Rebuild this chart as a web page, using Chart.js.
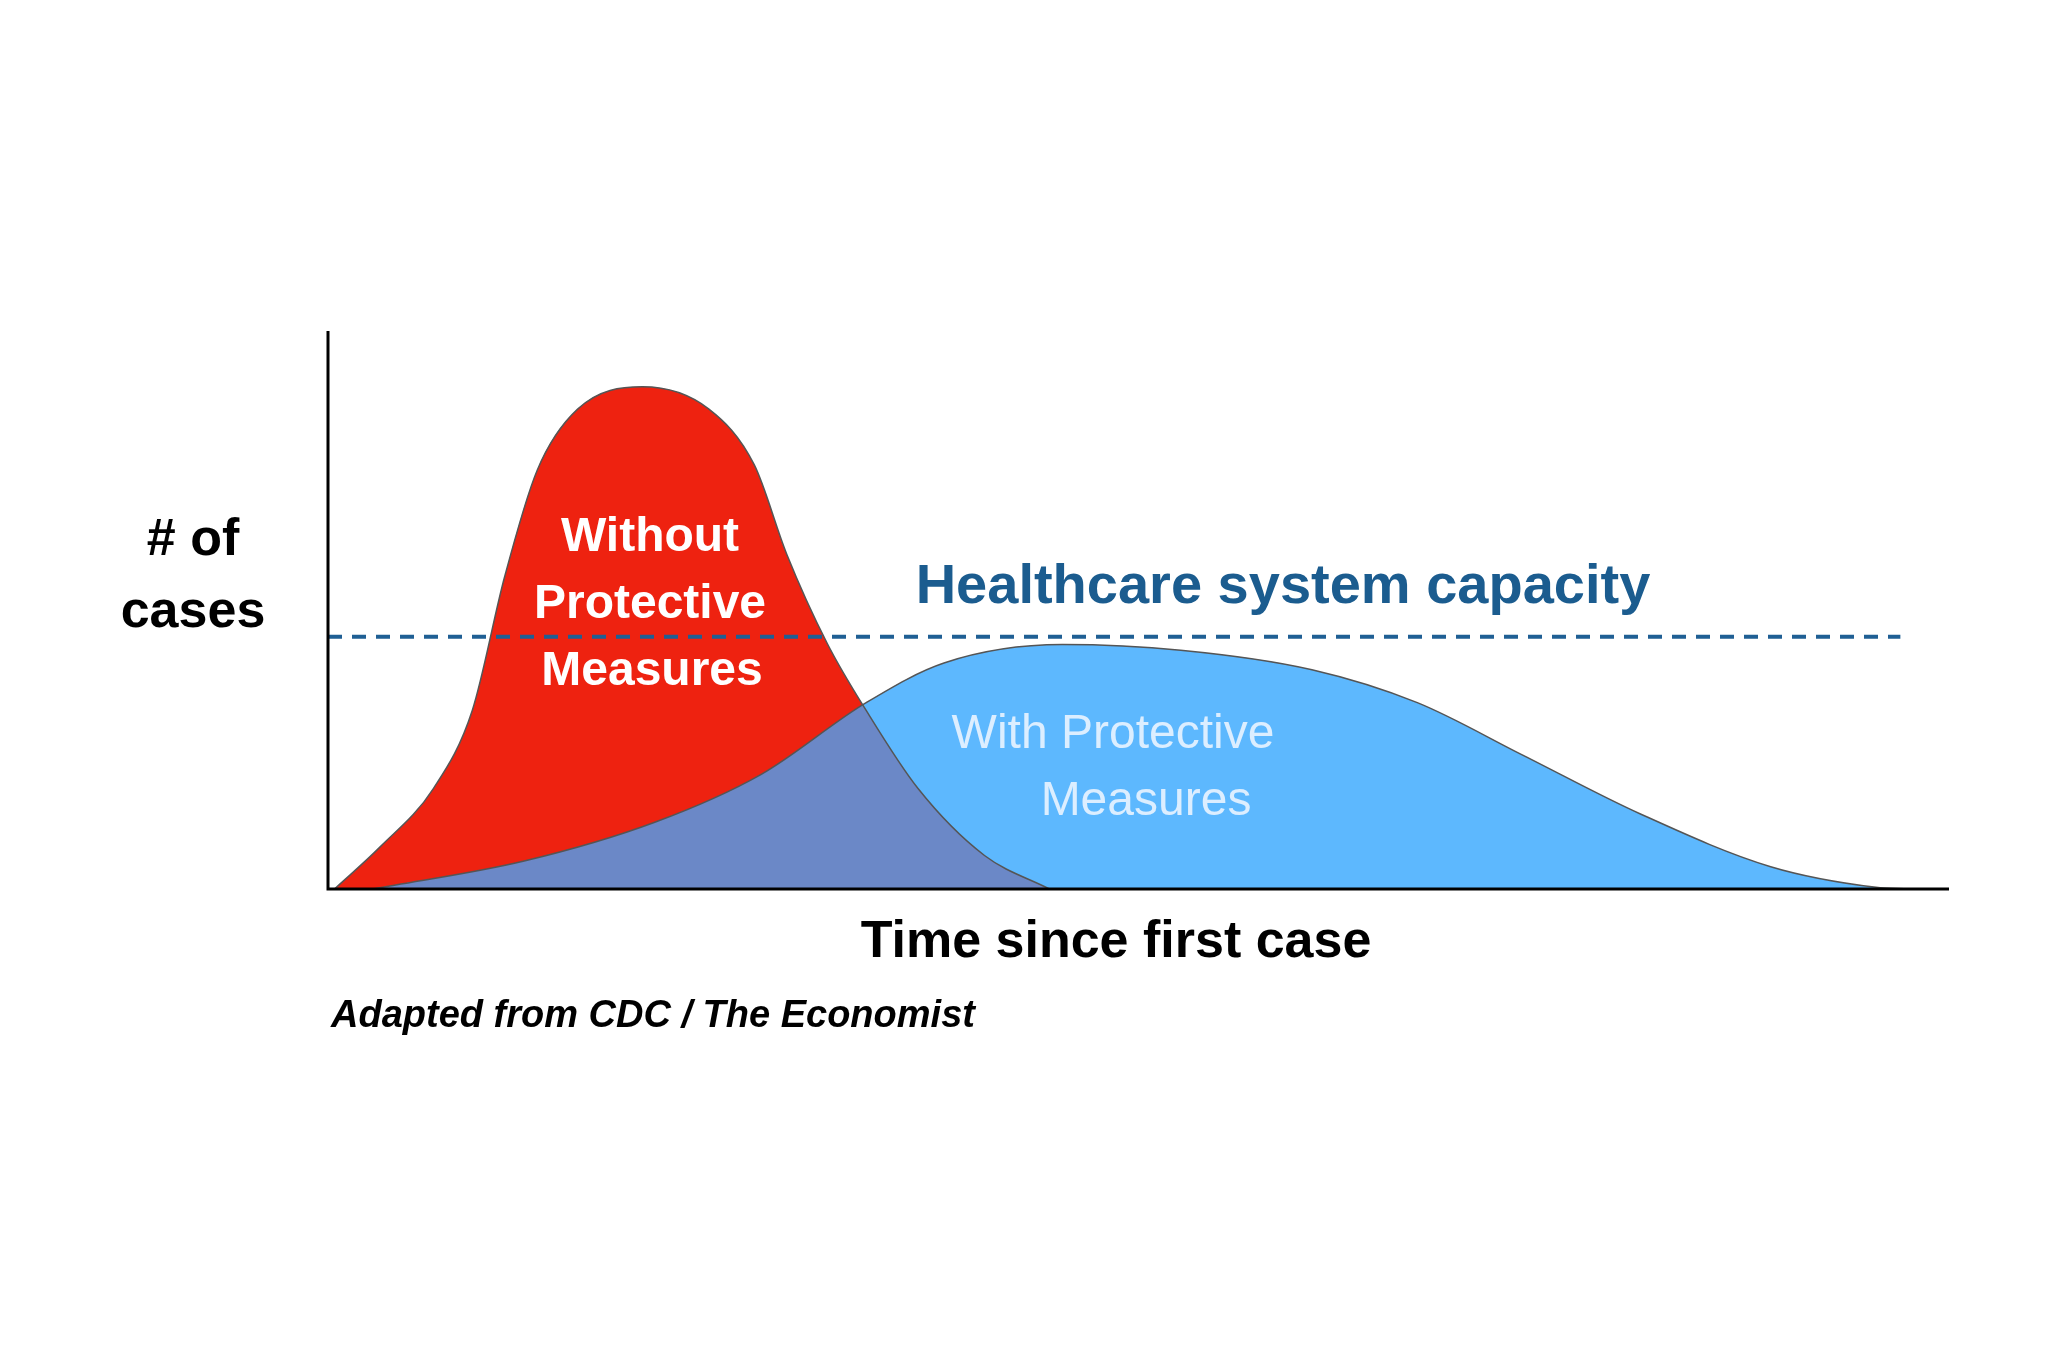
<!DOCTYPE html>
<html><head><meta charset="utf-8">
<script src="https://cdn.jsdelivr.net/npm/chart.js@4"></script>
<style>html,body{margin:0;background:#fff}</style></head>
<body><canvas id="c" width="2048" height="1365"></canvas>
<script>
const redX=[0.4,3.2,6.5,8.9,10.9,12.9,15.4,19.4,23.5,26.3,28.3,30.8,33.2,36.4,40.5,44.5];
const redY=[0,7.5,18,32,56,75,86,90,86,76,60,44,32,18,6,0];
const blueX=[2.8,12.1,20.2,26.7,33.2,38,45.3,52.6,60.7,67.2,73.7,81,89,95.5,97.5];
const blueY=[0,5,12,20.5,33.4,40.5,43.8,42.8,39.3,33.4,24,13.4,4,0.3,0];
const capacityX=[0,97];
const capacityY=[45.2,45.2];
const pts=(xs,ys)=>xs.map((x,i)=>({x,y:ys[i]}));
const F='"Liberation Sans", Arial, sans-serif';
const overlap={id:'overlap',
 afterDatasetsDraw(ch){
  const ctx=ch.ctx, y0=ch.scales.y.getPixelForValue(0);
  const r=ch.getDatasetMeta(0), b=ch.getDatasetMeta(1);
  const close=(m)=>{const p=m.data;ctx.lineTo(p[p.length-1].x,y0);ctx.lineTo(p[0].x,y0);ctx.closePath();};
  ctx.save();
  ctx.beginPath(); r.dataset.path(ctx); close(r); ctx.clip();
  ctx.beginPath(); b.dataset.path(ctx); close(b);
  ctx.fillStyle='#6B88C7'; ctx.fill();
  ctx.restore();
  ctx.save(); ctx.strokeStyle='#555'; ctx.lineWidth=1.5;
  ctx.beginPath(); r.dataset.path(ctx); ctx.stroke();
  ctx.beginPath(); b.dataset.path(ctx); ctx.stroke();
  ctx.restore();
  // axes
  const a=ch.chartArea;
  ctx.save(); ctx.strokeStyle='#000'; ctx.lineWidth=3;
  ctx.beginPath(); ctx.moveTo(a.left,a.top); ctx.lineTo(a.left,a.bottom); ctx.lineTo(a.right,a.bottom); ctx.stroke();
  ctx.restore();
 },
 afterDraw(ch){
  const ctx=ch.ctx; ctx.save(); ctx.textAlign='center'; ctx.textBaseline='middle';
  const t=(s,x,y,font,col)=>{ctx.font=font;ctx.fillStyle=col;ctx.fillText(s,x,y);};
  t('# of',193,541,'bold 52px '+F,'#000'); t('cases',193,613,'bold 52px '+F,'#000');
  t('Without',650,538,'bold 48px '+F,'#fff'); t('Protective',650,605,'bold 48px '+F,'#fff'); t('Measures',652,672,'bold 48px '+F,'#fff');
  t('Healthcare system capacity',1283,588,'bold 56px '+F,'#1B5C8F');
  t('With Protective',1113,735,'48px '+F,'#DCEEFF'); t('Measures',1146,802,'48px '+F,'#DCEEFF');
  t('Time since first case',1116,943,'bold 52px '+F,'#000');
  ctx.textAlign='left'; t('Adapted from CDC / The Economist',331,1017,'italic bold 38px '+F,'#000');
  ctx.restore();
 }};
new Chart(document.getElementById('c'),{
 type:'scatter',
 data:{datasets:[
  {data:pts(redX,redY),showLine:true,fill:'origin',backgroundColor:'#EE2210',borderWidth:0,pointRadius:0,tension:0.4,cubicInterpolationMode:'monotone',order:3},
  {data:pts(blueX,blueY),showLine:true,fill:'origin',backgroundColor:'#5DB8FE',borderWidth:0,pointRadius:0,tension:0.4,cubicInterpolationMode:'monotone',order:2},
  {data:pts(capacityX,capacityY),showLine:true,fill:false,borderColor:'#1F5F94',borderWidth:4,borderDash:[14,10],pointRadius:0,order:1}
 ]},
 options:{responsive:false,animation:false,devicePixelRatio:1,
  layout:{padding:{left:328,top:331,right:99,bottom:476}},
  plugins:{legend:{display:false},tooltip:{enabled:false}},
  scales:{x:{type:'linear',min:0,max:100,display:false},y:{min:0,max:100,display:false}}},
 plugins:[overlap]});
</script></body></html>
